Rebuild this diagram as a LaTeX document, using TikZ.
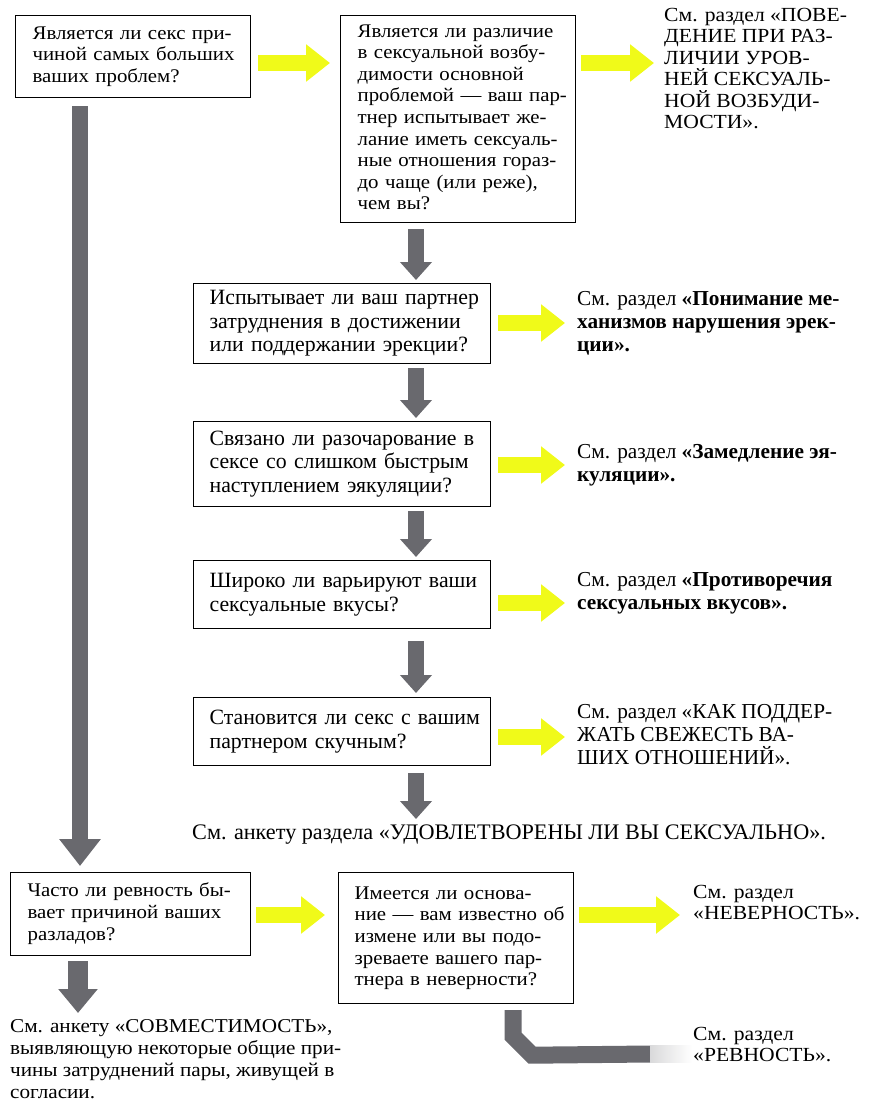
\documentclass[tikz,border=0pt]{standalone}
\usepackage{fontspec}
\setmainfont{Liberation Serif}
\newfontfamily\lfontfam[FakeStretch=1.08]{Liberation Serif}
\usetikzlibrary{arrows.meta}
\setlength{\parindent}{0pt}
\definecolor{yel}{RGB}{240,250,25}
\definecolor{gry}{RGB}{105,105,110}
\newcommand{\lf}{\lfontfam\fontsize{19.3}{21.6}\selectfont}
\newcommand{\rf}{\lfontfam\fontsize{20}{21.4}\selectfont}
\newcommand{\lfb}{\lfontfam\fontsize{19.6}{22}\selectfont}
\newcommand{\mf}{\fontsize{21.8}{23.5}\selectfont}
\newcommand{\btf}{\fontsize{22.2}{24}\selectfont}
\newcommand{\nf}{\fontsize{21.3}{23.2}\selectfont}
\begin{document}
\begin{tikzpicture}[x=1pt,y=-1pt,
  qbox/.style={draw, line width=1.2pt, anchor=north west, inner xsep=17pt, inner ysep=0pt, align=left},
  note/.style={anchor=north west, inner sep=0pt, align=left},
  yarr/.style={yel, line width=16pt, -{Triangle[width=36pt,length=24pt]}},
  garr/.style={gry, line width=16pt, -{Triangle[width=31pt,length=18pt]}},
  garrL/.style={gry, line width=16pt, -{Triangle[width=40pt,length=27pt]}},
  garrB/.style={gry, line width=20pt, -{Triangle[width=38pt,length=24pt]}},
  gband/.style={gry, line width=17pt},
]
\useasboundingbox (0,0) rectangle (873,1101);

% question boxes
\node[qbox, font=\lf, text width=201pt, minimum height=82pt] (b1) at (15,15)
  {\begin{tabular}{@{}l@{}}Является ли секс при-\\чиной самых больших\\ваших проблем?\end{tabular}};
\node[qbox, font=\lf, inner xsep=17pt, text width=201pt, minimum height=207pt] (b2) at (340,15)
  {\begin{tabular}{@{}l@{}}Является ли различие\\в сексуальной возбу-\\димости основной\\проблемой — ваш пар-\\тнер испытывает же-\\лание иметь сексуаль-\\ные отношения гораз-\\до чаще (или реже),\\чем вы?\end{tabular}};
\node[qbox, font=\mf, inner xsep=16pt, text width=265pt, minimum height=80pt] (b3) at (193,283)
  {\begin{tabular}{@{}l@{}}Испытывает ли ваш партнер\\затруднения в достижении\\или поддержании эрекции?\end{tabular}};
\node[qbox, font=\mf, inner xsep=16pt, text width=265pt, minimum height=85pt] (b4) at (193,421)
  {\begin{tabular}{@{}l@{}}Связано ли разочарование в\\сексе со слишком быстрым\\наступлением эякуляции?\end{tabular}};
\node[qbox, font=\mf, inner xsep=16pt, text width=265pt, minimum height=68pt] (b5) at (193,560)
  {\begin{tabular}{@{}l@{}}Широко ли варьируют ваши\\сексуальные вкусы?\end{tabular}};
\node[qbox, font=\mf, inner xsep=16pt, text width=265pt, minimum height=68pt] (b6) at (193,697)
  {\begin{tabular}{@{}l@{}}Становится ли секс с вашим\\партнером скучным?\end{tabular}};
\node[qbox, font=\lf, text width=206pt, minimum height=83pt] (b7) at (10,872)
  {\begin{tabular}{@{}l@{}}Часто ли ревность бы-\\вает причиной ваших\\разладов?\end{tabular}};
\node[qbox, font=\lf, inner xsep=16pt, text width=203pt, minimum height=131pt] (b8) at (338,872)
  {\begin{tabular}{@{}l@{}}Имеется ли основа-\\ние — вам известно об\\измене или вы подо-\\зреваете вашего пар-\\тнера в неверности?\end{tabular}};

% notes
\node[note, font=\rf] (r1) at (664,8)
  {См. раздел «ПОВЕ-\\ДЕНИЕ ПРИ РАЗ-\\ЛИЧИИ УРОВ-\\НЕЙ СЕКСУАЛЬ-\\НОЙ ВОЗБУДИ-\\МОСТИ».};
\node[note, font=\nf] (r3) at (577,291)
  {См. раздел \textbf{«Понимание ме-}\\\textbf{ханизмов нарушения эрек-}\\\textbf{ции».}};
\node[note, font=\nf] (r4) at (577,444)
  {См. раздел \textbf{«Замедление эя-}\\\textbf{куляции».}};
\node[note, font=\nf] (r5) at (577,572)
  {См. раздел \textbf{«Противоречия}\\\textbf{сексуальных вкусов».}};
\node[note, font=\nf] (r6) at (577,704)
  {См. раздел «КАК ПОДДЕР-\\ЖАТЬ СВЕЖЕСТЬ ВА-\\ШИХ ОТНОШЕНИЙ».};
\node[note, font=\btf] (bt) at (192,825)
  {См. анкету раздела «УДОВЛЕТВОРЕНЫ ЛИ ВЫ СЕКСУАЛЬНО».};
\node[note, font=\rf] (r8) at (693,885)
  {См. раздел\\«НЕВЕРНОСТЬ».};
\node[note, font=\rf] (r9) at (693,1027)
  {См. раздел\\«РЕВНОСТЬ».};
\node[note, font=\lfb] (bl) at (10,1019)
  {См. анкету «СОВМЕСТИМОСТЬ»,\\выявляющую некоторые общие при-\\чины затруднений пары, живущей в\\согласии.};

% helper coordinates
\coordinate (gx) at (416,0);
\coordinate (lx) at (80,0);
\coordinate (sx) at (78,0);
\coordinate (bx) at (513,0);
\coordinate (yA) at (0,63);
\coordinate (yC) at (0,323);
\coordinate (yD) at (0,465);
\coordinate (yE) at (0,603);
\coordinate (yF) at (0,737);
\coordinate (yG) at (0,915);
\coordinate (bend) at (650,1054);

% yellow arrows
\draw[yarr, shorten <=7pt, shorten >=10pt] (b1.east |- yA) -- (b2.west |- yA);
\draw[yarr, shorten <=5pt, shorten >=10pt] (b2.east |- yA) -- (r1.west |- yA);
\draw[yarr, shorten <=7pt, shorten >=12pt] (b3.east |- yC) -- (r3.west |- yC);
\draw[yarr, shorten <=7pt, shorten >=12pt] (b4.east |- yD) -- (r4.west |- yD);
\draw[yarr, shorten <=7pt, shorten >=12pt] (b5.east |- yE) -- (r5.west |- yE);
\draw[yarr, shorten <=7pt, shorten >=12pt] (b6.east |- yF) -- (r6.west |- yF);
\draw[yarr, shorten <=5pt, shorten >=13pt] (b7.east |- yG) -- (b8.west |- yG);
\draw[yarr, shorten <=5pt, shorten >=13pt] (b8.east |- yG) -- (r8.west |- yG);

% gray arrows
\draw[garr, shorten <=6pt, shorten >=3pt] (b2.south -| gx) -- (b3.north -| gx);
\draw[garr, shorten <=4pt, shorten >=3pt] (b3.south -| gx) -- (b4.north -| gx);
\draw[garr, shorten <=4pt, shorten >=3pt] (b4.south -| gx) -- (b5.north -| gx);
\draw[garr, shorten <=12pt, shorten >=4pt] (b5.south -| gx) -- (b6.north -| gx);
\draw[garr, shorten <=7pt, shorten >=6pt] (b6.south -| gx) -- (bt.north -| gx);
\draw[garrL, shorten <=8pt, shorten >=6pt] (b1.south -| lx) -- (b7.north -| lx);
\draw[garrB, shorten <=5pt, shorten >=6pt] (b7.south -| sx) -- (bl.north -| sx);
\draw[gband, shorten <=6pt] (b8.south -| bx) -- ++(0,32) -- ++(19,19) -- (bend);
\shade[left color=gry!25, right color=white] (650,1045.5) rectangle (692,1062.5);
\end{tikzpicture}
\end{document}
